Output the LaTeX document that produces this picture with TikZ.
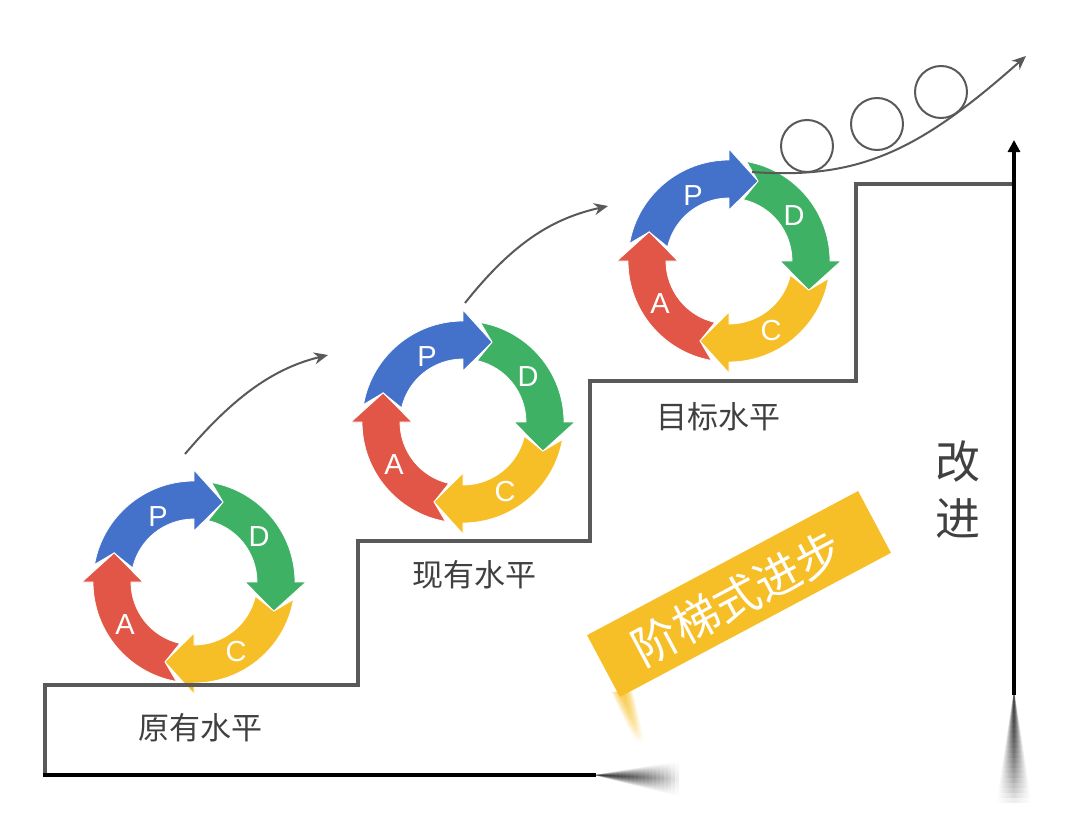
\documentclass[tikz,border=0pt]{standalone}
\usepackage{fontspec}
\setmainfont{Liberation Sans}
\newfontfamily\cjk{Noto Sans CJK SC}
\usepackage{xcolor}
\usetikzlibrary{arrows.meta,fadings}
\definecolor{planblue}{HTML}{4472CA}
\definecolor{dogreen}{HTML}{3FB165}
\definecolor{checkyellow}{HTML}{F7BF27}
\definecolor{actred}{HTML}{E15646}
\definecolor{stairgray}{HTML}{595959}
\definecolor{textgray}{HTML}{404040}

\tikzset{
  cyclearrow/.style={fill=#1, draw=white, line width=0.8pt},
  letter/.style={text=white, font=\fontsize{29}{29}\selectfont},
  level/.style={text=textgray, font=\cjk\fontsize{31}{31}\selectfont},
  ball/.style={draw=stairgray, line width=2pt, circle, minimum size=52pt, inner sep=0pt},
  curve/.style={draw=stairgray, line width=2pt, -{Stealth[length=14pt,width=12pt]}},
  stair/.style={draw=stairgray, line width=3.5pt, line join=miter},
}

% one ring arrow: head base at angle #1
\newcommand{\ringarrow}[2]{
  \path[cyclearrow=#2] (#1+80:101) arc[start angle=#1+80, end angle=#1, radius=101]
    -- (#1:112) -- (#1-20:85) -- (#1:51) -- (#1:63)
    arc[start angle=#1, end angle=#1+77, radius=63] -- (#1+70:85) -- cycle;
}

\begin{document}
\begin{tikzpicture}[x=1pt, y=-1pt]
  \useasboundingbox (0,0) rectangle (1080,816);

  % the three cycles
  \foreach \cx/\cy/\lname in {194/582/old, 463/422/now, 729/261/goal}{
    \begin{scope}[shift={(\cx,\cy)}, yscale=-1]
      \ringarrow{90}{planblue}
      \ringarrow{0}{dogreen}
      \ringarrow{270}{checkyellow}
      \ringarrow{180}{actred}
      \node[letter] (P\lname) at (-36,65) {P};
      \node[letter] (D\lname) at (65,45) {D};
      \node[letter] (C\lname) at (42,-70) {C};
      \node[letter] (A\lname) at (-69,-43) {A};
    \end{scope}
  }

  % stairs
  \draw[stair] (1014,184) -- (856,184) -- (856,381) -- (590,381) -- (590,541)
    -- (358,541) -- (358,685) -- (45,685) -- (45,775);
  \draw[black, line width=3.5pt] (43.3,775) -- (596,775);
  \draw[black, line width=3.5pt, -{Triangle[length=12pt,width=12pt]}] (1014,695) -- (1014,140);

  % smudged ends
  \foreach \w in {1,2,...,18}{
    \fill[black, opacity=0.09, path fading=south] (994,690) -- (994,690) (1034,805) -- (1034,805)
      (1014,690) -- (1014+\w,805) -- (1014-\w,805) -- cycle;
    \fill[black, opacity=0.09, path fading=east] (594,755) -- (594,755) (680,797) -- (680,797)
      (594,775) -- (680,779-\w) -- (680,779+\w) -- cycle;
  }
  \foreach \w in {2,4,...,10}{
    \fill[checkyellow, opacity=0.28, path fading=south]
      (622-\w,692) -- (622+\w,692) -- (640+\w/2,742) -- (640-\w/2,742) -- cycle;
  }

  % level names
  \node[level] (oldlevel) at (200,728) {原有水平};
  \node[level] (nowlevel) at (474,575) {现有水平};
  \node[level] (goallevel) at (718,417) {目标水平};

  % balls on the slope
  \node[ball] (ballone) at (807,146) {};
  \node[ball] (balltwo) at (877,124) {};
  \node[ball] (ballthree) at (941,92) {};

  \coordinate (startone) at (185,454);
  \coordinate (endone) at (328,355);
  \coordinate (starttwo) at (465,303);
  \coordinate (endtwo) at (608,206);
  \coordinate (startthree) at (752,172);
  \coordinate (endthree) at (1026,56);
  \draw[curve] (startone) .. controls (235,395) and (275,368) .. (endone);
  \draw[curve] (starttwo) .. controls (515,240) and (555,218) .. (endtwo);
  \draw[curve] (startthree) .. controls (860,180) and (920,150) .. (endthree);

  % side label and band
  \node[text=textgray, font=\cjk\fontsize{45}{57}\selectfont, align=center] (gainlabel) at (958,490) {改\\进};
  \node[fill=checkyellow, minimum width=307pt, minimum height=70pt, inner sep=0pt, rotate=28] (band) at (739,594) {};
  \node[text=white, font=\cjk\fontsize{46}{46}\selectfont, rotate=28] (bandtext) at (737,598) {阶梯式进步};
\end{tikzpicture}
\end{document}
